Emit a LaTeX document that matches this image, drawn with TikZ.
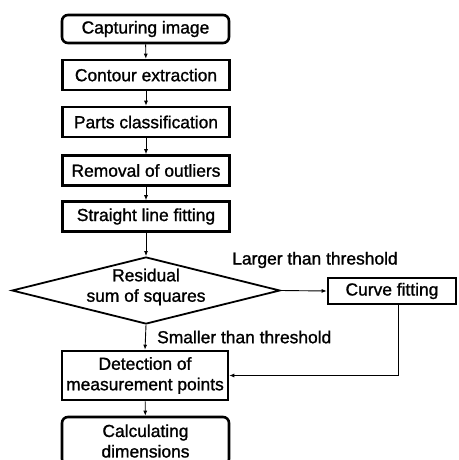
\documentclass[tikz,border=0pt]{standalone}
\usepackage{fontspec}
\setmainfont{Liberation Sans}[FakeBold=1.2]
\usetikzlibrary{shapes.geometric,arrows.meta}
\begin{document}
\begin{tikzpicture}[x=1pt,y=-1pt,
  every node/.style={font=\fontsize{17.4}{20.5}\selectfont},
  box/.style={draw,line width=2.6pt,inner sep=0pt,align=center},
  rbox/.style={box,rounded corners=6pt},
  conn/.style={line width=0.9pt,-{Latex[length=5pt,width=4pt]}},
  plain/.style={line width=0.9pt}]
\useasboundingbox (0,0) rectangle (458,460);
\node[rbox,minimum width=167pt,minimum height=28pt] (cap) at (145.5,29) {Capturing image};
\node[box,minimum width=167pt,minimum height=30pt] (con) at (146,75) {Contour extraction};
\node[box,minimum width=167pt,minimum height=30pt] (par) at (146,122) {Parts classification};
\node[box,minimum width=167pt,minimum height=30pt] (rem) at (146,170.5) {Removal of outliers};
\node[box,minimum width=167pt,minimum height=30pt] (str) at (146,216.5) {Straight line fitting};
\node[draw,diamond,line width=1.8pt,inner sep=0pt,minimum width=268pt,minimum height=67pt] (dia) at (146,290.5) {};
\node[align=center,inner sep=0pt] (diat) at (146,287) {Residual\\sum of squares};
\node[box,minimum width=128pt,minimum height=26pt] (cur) at (392,291) {Curve fitting};
\node[box,minimum width=166pt,minimum height=49pt] (det) at (145,375.5) {Detection of\\measurement points};
\node[rbox,minimum width=167pt,minimum height=48pt] (cal) at (145.5,441) {Calculating\\dimensions};
\node[inner sep=0pt] (lt) at (315,260) {Larger than threshold};
\node[inner sep=0pt,anchor=west] (st) at (157,337) {Smaller than threshold};
\coordinate (cv) at ([xshift=6pt]cur.south);
\draw[conn] (cap) -- (con);
\draw[conn] (con) -- (par);
\draw[conn] (par) -- (rem);
\draw[conn] (rem) -- (str);
\draw[conn] (str) -- (dia.north);
\draw[conn] (dia.east) -- (cur.west);
\draw[conn] (dia.south) -- (det.north);
\draw[conn] (cv) |- (det.east);
\draw[conn] (det) -- (cal);
\end{tikzpicture}
\end{document}
